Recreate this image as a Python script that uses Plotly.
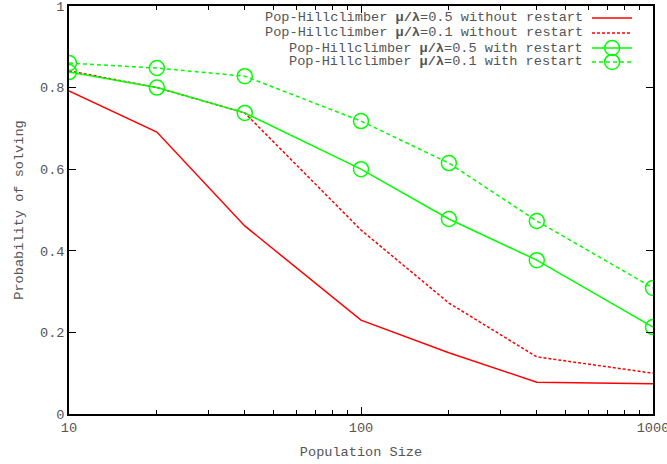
import plotly.graph_objects as go

pop_size = [10, 20, 40, 100, 200, 400, 1000]
names = [
    "Pop-Hillclimber <b>μ/λ</b>=0.5 without restart",
    "Pop-Hillclimber <b>μ/λ</b>=0.1 without restart",
    "Pop-Hillclimber <b>μ/λ</b>=0.5 with restart",
    "Pop-Hillclimber <b>μ/λ</b>=0.1 with restart",
]
red_05_norestart = [0.792, 0.691, 0.461, 0.230, 0.150, 0.078, 0.074]
red_01_norestart = [0.841, 0.800, 0.738, 0.451, 0.272, 0.140, 0.100]
green_05_restart = [0.838, 0.800, 0.738, 0.600, 0.478, 0.377, 0.213]
green_01_restart = [0.860, 0.848, 0.828, 0.718, 0.615, 0.473, 0.309]

series = [red_05_norestart, red_01_norestart, green_05_restart, green_01_restart]
colors = ["#ff0000", "#ff0000", "#00ff00", "#00ff00"]
dashes = ["solid", "3px,2px", "solid", "4px,3px"]
has_marker = [False, False, True, True]

FONT = dict(family="Liberation Mono, Courier New, monospace", size=13.6, color="#555555")

fig = go.Figure()
for ys, c, d, m in zip(series, colors, dashes, has_marker):
    fig.add_trace(go.Scatter(
        x=pop_size, y=ys,
        mode="lines+markers" if m else "lines",
        line=dict(color=c, width=1.5, dash=d),
        marker=dict(symbol="circle-open", size=15, color=c, line=dict(width=1.5, color=c)),
        showlegend=False,
    ))

# manual gnuplot-style legend (text left, sample right)
leg_y = [0.9706, 0.934, 0.897, 0.863]
for name, ly, c, d, m in zip(names, leg_y, colors, dashes, has_marker):
    fig.add_annotation(xref="paper", yref="paper", x=0.8836, y=ly, text=name,
                       showarrow=False, xanchor="right", yanchor="middle", font=FONT)
    fig.add_trace(go.Scatter(
        x=[0.8955, 0.964], y=[ly, ly], xaxis="x2", yaxis="y2",
        mode="lines", line=dict(color=c, width=1.5, dash=d),
        showlegend=False, hoverinfo="skip",
    ))
    if m:
        fig.add_trace(go.Scatter(
            x=[0.930], y=[ly], xaxis="x2", yaxis="y2", mode="markers",
            marker=dict(symbol="circle-open", size=15, color=c, line=dict(width=1.5, color=c)),
            showlegend=False, hoverinfo="skip",
        ))

fig.update_layout(
    width=667, height=464,
    margin=dict(l=69, r=14, t=6, b=50),
    paper_bgcolor="white", plot_bgcolor="white",
    font=FONT,
    showlegend=False,
    xaxis=dict(
        type="log", range=[1, 3],
        tickvals=[10, 100, 1000], ticktext=["10", "100", "1000"],
        ticklabeloverflow="allow", automargin=False,
        ticks="inside", ticklen=7, tickwidth=1, tickcolor="black",
        minor=dict(ticks="inside", ticklen=4, tickcolor="black",
                   tickvals=[20, 30, 40, 50, 60, 70, 80, 90, 200, 300, 400, 500, 600, 700, 800, 900]),
        showline=True, linecolor="black", linewidth=1.5, mirror="ticks",
        showgrid=False, zeroline=False,
        title=dict(text="Population Size", font=FONT, standoff=11),
    ),
    yaxis=dict(
        range=[0, 1], tickvals=[0, 0.2, 0.4, 0.6, 0.8, 1],
        ticktext=["0", "0.2", "0.4", "0.6", "0.8", "1"],
        ticklabeloverflow="allow", automargin=False,
        ticks="inside", ticklen=7, tickwidth=1, tickcolor="black",
        showline=True, linecolor="black", linewidth=1.5, mirror="ticks",
        showgrid=False, zeroline=False,
        title=dict(text="Probability of solving", font=FONT, standoff=13),
    ),
    xaxis2=dict(overlaying="x", range=[0, 1], visible=False, domain=[0, 1]),
    yaxis2=dict(overlaying="y", range=[0, 1], visible=False, domain=[0, 1]),
)

fig.write_html("out.html")
